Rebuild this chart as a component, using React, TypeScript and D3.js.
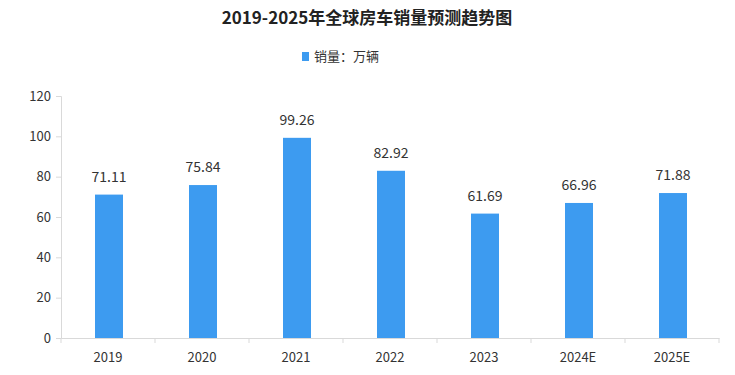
import { useEffect, useRef } from "react";
import * as d3 from "d3";

const categories = ["2019", "2020", "2021", "2022", "2023", "2024E", "2025E"];
const sales = [71.11, 75.84, 99.26, 82.92, 61.69, 66.96, 71.88];
const yTicks = [0, 20, 40, 60, 80, 100, 120];

const width = 735;
const height = 375;
const font = "'Noto Sans CJK SC', 'DejaVu Sans', sans-serif";

export default function App() {
  const svgRef = useRef<SVGSVGElement | null>(null);

  useEffect(() => {
    if (!svgRef.current) return;
    const svg = d3.select(svgRef.current);
    svg.selectAll("*").remove();

    const left = 61, right = 719, top = 96, bottom = 338;

    const x = d3.scaleBand<string>().domain(categories).range([left, right]);
    const y = d3.scaleLinear().domain([0, 120]).range([bottom, top]);

    // title
    svg.append("text")
      .attr("x", 367).attr("y", 24)
      .attr("text-anchor", "middle")
      .style("font-family", font).style("font-size", "17px").style("font-weight", "bold")
      .attr("fill", "#222")
      .text("2019-2025年全球房车销量预测趋势图");

    // legend
    svg.append("rect").attr("x", 302).attr("y", 52).attr("width", 7).attr("height", 9).attr("fill", "#3d9bf0");
    svg.append("text")
      .attr("x", 314).attr("y", 61)
      .style("font-family", font).style("font-size", "13px")
      .attr("fill", "#333")
      .text("销量：万辆");

    // y axis
    const yAxis = svg.append("g").attr("transform", `translate(${left},0)`)
      .call(d3.axisLeft(y).tickValues(yTicks).tickSize(5).tickPadding(5));
    yAxis.select(".domain").attr("stroke", "#d9d9d9");
    yAxis.selectAll(".tick line").attr("stroke", "#d9d9d9");
    yAxis.selectAll(".tick text")
      .style("font-family", font).style("font-size", "13px").attr("fill", "#333");

    // x axis
    const xAxis = svg.append("g").attr("transform", `translate(0,${bottom})`)
      .call(d3.axisBottom(x).tickSize(0).tickPadding(15));
    xAxis.select(".domain").attr("stroke", "#d9d9d9");
    xAxis.selectAll(".tick text")
      .style("font-family", font).style("font-size", "13px").attr("fill", "#333");
    xAxis.selectAll("line.sep")
      .data(categories.map((c) => x(c)!).concat([right]))
      .enter().append("line")
      .attr("class", "sep")
      .attr("x1", (d) => d).attr("x2", (d) => d)
      .attr("y1", 0).attr("y2", 5)
      .attr("stroke", "#d9d9d9");

    const barW = 28;
    svg.selectAll("rect.bar")
      .data(sales)
      .enter().append("rect")
      .attr("class", "bar")
      .attr("x", (_d, i) => x(categories[i])! + x.bandwidth() / 2 - barW / 2 + 1)
      .attr("y", (d) => y(d))
      .attr("width", barW)
      .attr("height", (d) => bottom - y(d))
      .attr("fill", "#3d9bf0");

    svg.selectAll("text.label")
      .data(sales)
      .enter().append("text")
      .attr("class", "label")
      .attr("x", (_d, i) => x(categories[i])! + x.bandwidth() / 2 + 1)
      .attr("y", (d) => y(d) - 13)
      .attr("text-anchor", "middle")
      .style("font-family", font).style("font-size", "14px")
      .attr("fill", "#333")
      .text((d) => d.toFixed(2));
  }, []);

  return <svg ref={svgRef} width={width} height={height} style={{ display: "block", margin: "-8px", background: "#fff" }} />;
}
